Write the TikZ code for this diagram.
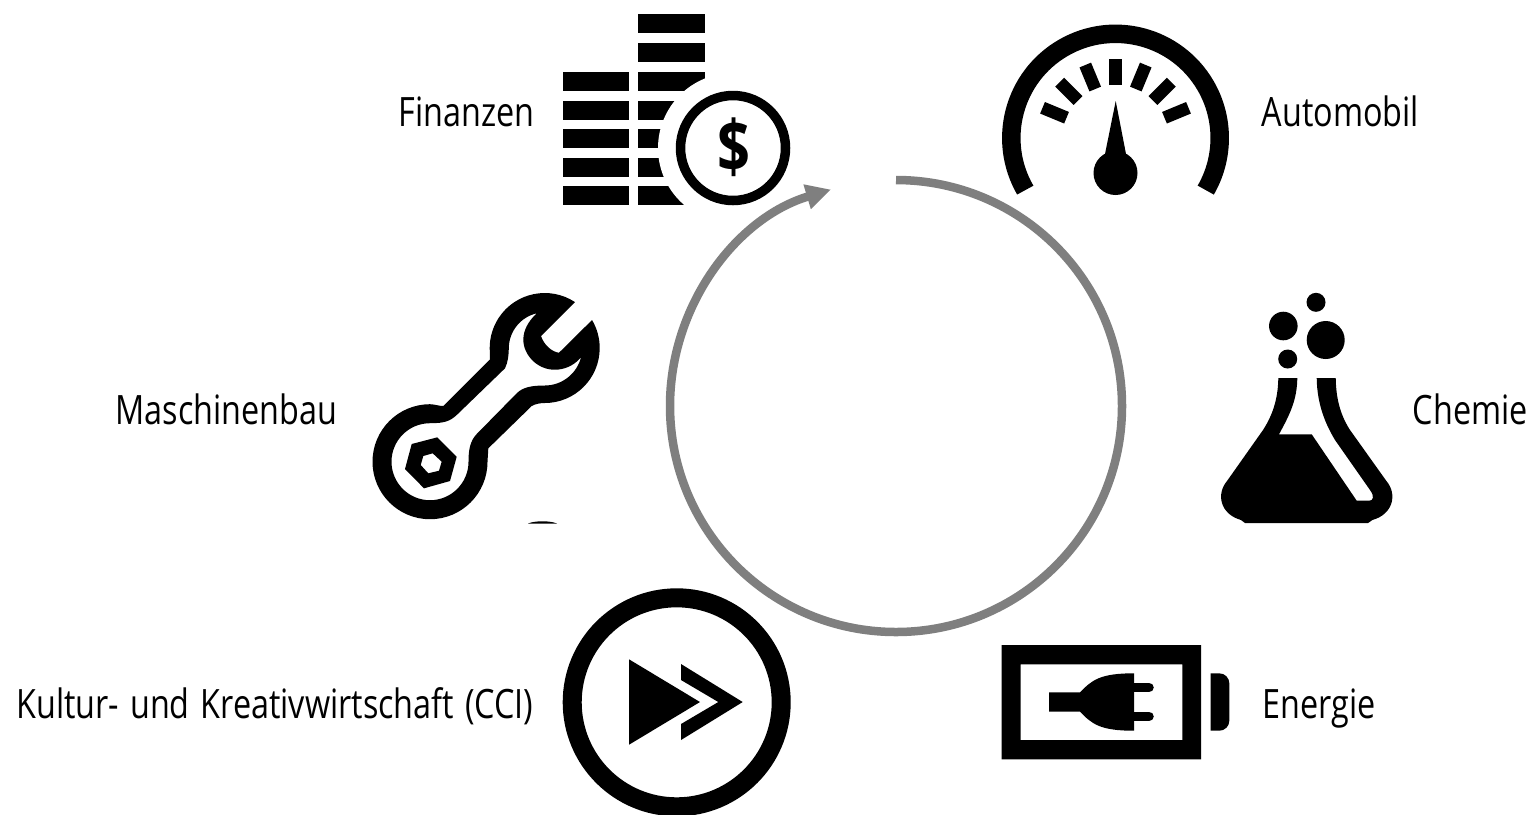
\documentclass[tikz,border=0pt]{standalone}
\usepackage{fontspec}
\setmainfont[FakeStretch=0.8,WordSpace=1.3]{Open Sans}
\usetikzlibrary{arrows.meta,calc}
\definecolor{ringgray}{HTML}{7F7F7F}
\tikzset{
  sectorlabel/.style={inner sep=0pt, font=\fontsize{11.5pt}{13pt}\selectfont},
  ringline/.style={draw=ringgray, line width=0.085cm, -{Triangle[length=0.25cm,width=0.24cm]}},
  iconring/.style={draw=black, line width=0.19cm},
}
\begin{document}
\begin{tikzpicture}[x=0.01cm, y=-0.01cm]
  \useasboundingbox (0,0) rectangle (1531,814);

  % Finanzen
  \foreach \yy in {72,100.5,129,157.5,186}
    \fill (563,\yy) rectangle (629,\yy+19);
  \foreach \yy in {14,43,72,100.5,129,157.5,186}
    \fill (638,\yy) rectangle (705,\yy+19);
  \fill[white] (733,148) circle (75);
  \draw[draw=black, line width=0.095cm] (733,148) circle (52.5);
  \node[font=\fontsize{20.5pt}{21pt}\selectfont\bfseries, inner sep=0pt] (dollar) at (734,147) {\$};

  % Cycle
  \draw[ringline] (896,180) arc (-90:253.3:226);

  % Automobil
  \draw[line width=0.185cm] (1115.5,138) ++(150:104.2) arc (150:390:104.2);
  \foreach \a in {202.5,225,...,337.5}
    \draw[line width=0.125cm] ($(1115.5,138)+(\a:53)$) -- ($(1115.5,138)+(\a:79)$);
  \fill (1115.7,101) -- (1126,154) -- (1105,154) -- cycle;
  \fill (1115.5,173) circle (22);

  % Maschinenbau
  \fill[even odd rule]
    (544.7,348) ++(-56.6:55) arc (-56.6:-180:55) -- (490,359.3) -- (443.3,406)
    .. controls (439,406) and (434,404.2) .. (430,404.2) arc (-90:-360:57.5)
    -- (488.3,448.3) -- (531.7,406) .. controls (535,404) and (540,403) .. (544.7,403)
    arc (90:-30.6:55) -- (559,352.7) .. controls (552,352) and (544,345) .. (541,336) -- cycle
    (536.7,313.3) arc (-103:-180:36) .. controls (508.7,355) and (508,362) .. (505,368.3) -- (456.7,415)
    .. controls (450,421) and (445,423.2) .. (430,423.2) arc (-90:-360:38.5)
    .. controls (468.5,450) and (470,441) .. (476.7,434) -- (516.7,393.3)
    .. controls (523,387) and (532,385.5) .. (544.7,385.5) arc (90:14:37.5)
    .. controls (570,371) and (548,375) .. (533,361) .. controls (520,348) and (519,330) .. (536.7,313.3) -- cycle;
  \fill[even odd rule]
    (437.3,437.3) -- (456.7,456.7) -- (450,481) -- (424,488.3) -- (405,469) -- (411.7,444) -- cycle
    (432.7,453.3) -- (441.7,461.7) -- (439,470.7) -- (428.3,473.3) -- (420.7,465) -- (423.3,456) -- cycle;
  \fill (528,523.5) .. controls (535,520.5) and (550,520.5) .. (557,523.5) -- cycle;

  % Chemie
  \fill (1316,302.3) circle (9.5);
  \fill (1283.3,326) circle (14.3);
  \fill (1325.7,340) circle (19);
  \fill (1287.7,359) circle (9.5);
  \fill (1278.3,378) .. controls (1278,400) and (1272,416) .. (1263,430) -- (1227,481)
    .. controls (1216,494) and (1220,514) .. (1241,520) -- (1245,523) -- (1368,523) -- (1372.4,520)
    .. controls (1393.4,514) and (1397.4,494) .. (1386.4,481) -- (1350,430)
    .. controls (1341,416) and (1336,400) .. (1335.7,378) -- (1316.7,378)
    .. controls (1317,405) and (1326,425) .. (1335,440) -- (1370,490)
    .. controls (1375,497) and (1373,500.7) .. (1369,500.7) -- (1356.7,500.7) -- (1311.7,434.3) -- (1279,434.3)
    .. controls (1290,414) and (1297,400) .. (1297.3,378) -- cycle;

  % Kultur
  \draw[iconring] (676.7,702.3) circle (104.5);
  \fill (629,659.3) -- (700,702) -- (629,744.7) -- cycle;
  \fill (681,664) -- (742.7,702) -- (681,740) -- (681,724) -- (718.3,702) -- (681,680) -- cycle;

  % Energie
  \fill[even odd rule] (1001.7,645) rectangle (1201,759.3) (1020.7,664.3) rectangle (1182.3,740);
  \fill (1210.7,673.3) -- (1219.3,673.3) arc (-90:0:10) -- (1229.3,720.7) arc (0:90:10) -- (1210.7,730.7) -- cycle;
  \fill (1049,692.3) -- (1080,692.3) .. controls (1092,680) and (1100,673.3) .. (1134,673.3)
    -- (1134,730.7) .. controls (1100,730.7) and (1092,724) .. (1080,711.7) -- (1049,711.7) -- cycle;
  \draw[line width=0.095cm, line cap=round] (1134,687.5) -- (1149,687.5);
  \draw[line width=0.095cm, line cap=round] (1134,716.3) -- (1149,716.3);

  % Labels
  \node[sectorlabel, anchor=base east] (finanzen) at (535,126) {Finanzen};
  \node[sectorlabel, anchor=base west] (automobil) at (1261,126) {Automobil};
  \node[sectorlabel, anchor=base east] (maschinenbau) at (338,424) {Maschinenbau};
  \node[sectorlabel, anchor=base west] (chemie) at (1412,424) {Chemie};
  \node[sectorlabel, anchor=base east] (kultur) at (534,718) {Kultur- und Kreativwirtschaft (CCI)};
  \node[sectorlabel, anchor=base west] (energie) at (1262,718) {Energie};
\end{tikzpicture}
\end{document}
